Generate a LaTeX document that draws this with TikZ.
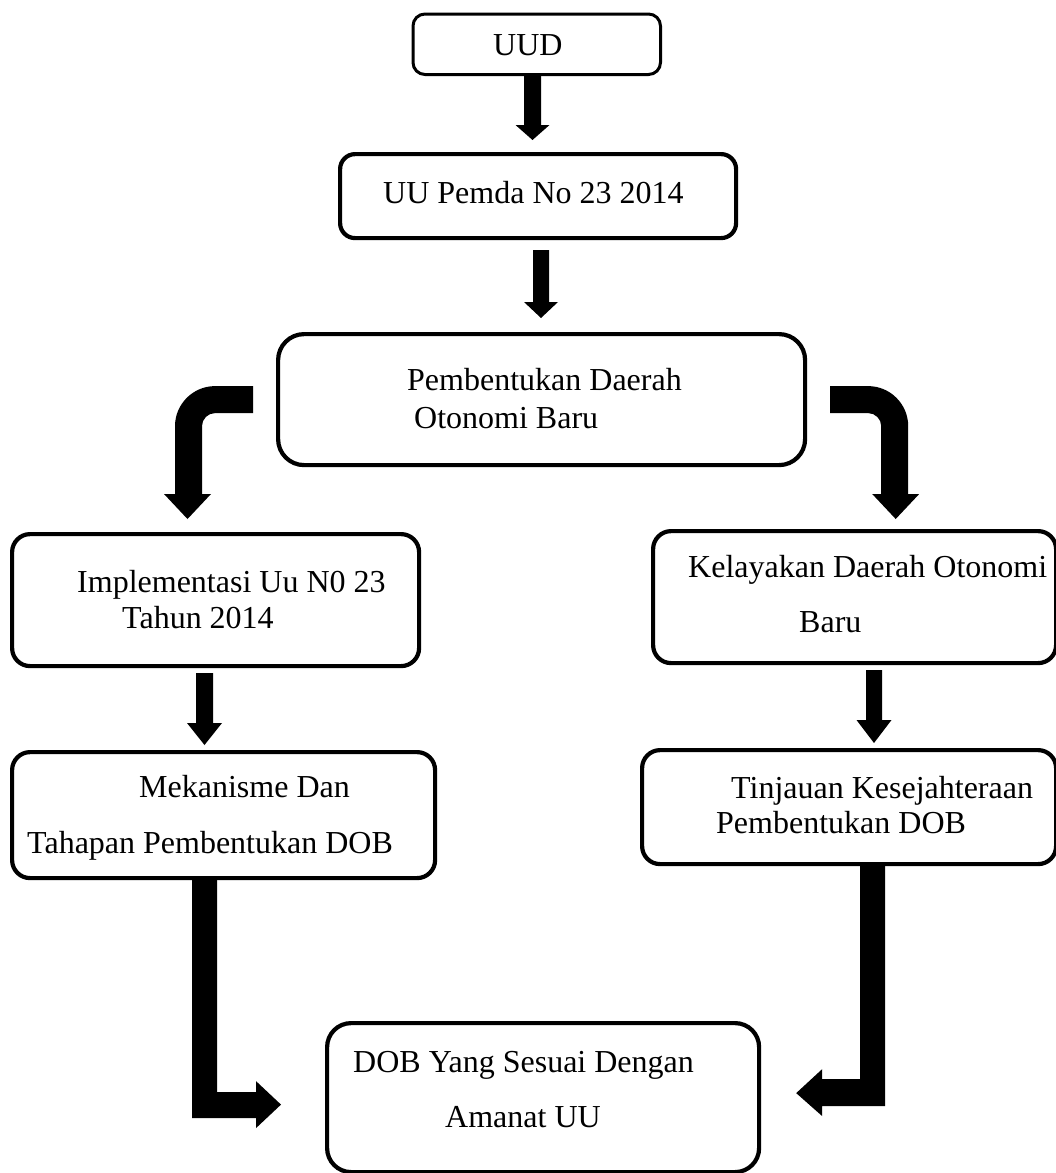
\documentclass[tikz,border=0pt]{standalone}
\usepackage{fontspec}
\setmainfont{Liberation Serif}
\usetikzlibrary{calc}
\tikzset{
  box/.style={draw=black, line width=4.2pt, rounded corners=18pt, inner sep=0pt},
  txt/.style={inner sep=0pt, anchor=base west, font=\fontsize{32}{38}\selectfont},
}
% box by its outer-line centre corners
\newcommand\boxat[6]{\node[box,#6,anchor=north west,minimum width={#4-#2},minimum height={#5-#3}] (#1) at (#2,#3) {};}
% straight block arrow: from, to, x centre, shaft half width, head half width, head length, top gap, bottom gap
\newcommand\vblk[8]{%
  \fill let \p1=(#1.south), \p2=(#2.north) in
  ({(#3)*1pt-(#4)*1pt},{\y1-(#7)*1pt}) -- ({(#3)*1pt+(#4)*1pt},{\y1-(#7)*1pt})
  -- ({(#3)*1pt+(#4)*1pt},{\y2+(#8)*1pt+(#6)*1pt}) -- ({(#3)*1pt+(#5)*1pt},{\y2+(#8)*1pt+(#6)*1pt})
  -- ({(#3)*1pt},{\y2+(#8)*1pt})
  -- ({(#3)*1pt-(#5)*1pt},{\y2+(#8)*1pt+(#6)*1pt}) -- ({(#3)*1pt-(#4)*1pt},{\y2+(#8)*1pt+(#6)*1pt}) -- cycle;}
% bent block arrow from side of a box down onto another: start coord, tip coord, sign (-1 left, 1 right)
\newcommand\bentblk[3]{%
  \fill let \p1=(#1), \p2=(#2) in
  (\x1,\y1+13.5pt) -- ({\x1+(#3)*38pt},\y1+13.5pt)
  .. controls ({\x1+(#3)*60pt},\y1+13.5pt) and ({\x1+(#3)*78pt},\y1-4.5pt) .. ({\x1+(#3)*78pt},\y1-26.5pt)
  -- ({\x1+(#3)*78pt},\y2+25pt) -- ({\x1+(#3)*89pt},\y2+25pt)
  -- ({\x1+(#3)*65.5pt},\y2) -- ({\x1+(#3)*42pt},\y2+25pt)
  -- ({\x1+(#3)*51pt},\y2+25pt) -- ({\x1+(#3)*51pt},\y1-26.5pt)
  .. controls ({\x1+(#3)*51pt},\y1-19.3pt) and ({\x1+(#3)*45pt},\y1-13.5pt) .. ({\x1+(#3)*38pt},\y1-13.5pt)
  -- (\x1,\y1-13.5pt) -- cycle;}
\begin{document}
\begin{tikzpicture}[x=1pt,y=-1pt]
\useasboundingbox (0,0) rectangle (1056,1173);

% boxes
\boxat{uud}{411.5}{12.5}{659}{73}{line width=3pt, rounded corners=12pt}
\boxat{pemda}{338}{152}{734}{236}{rounded corners=15pt}
\boxat{pdob}{276}{332}{803}{463}{rounded corners=26pt}
\boxat{impl}{10}{532}{417}{664}{}
\boxat{kel}{651}{529}{1054}{661}{}
\boxat{mek}{10}{750}{433}{876}{}
\boxat{tin}{640}{748}{1054}{862}{}
\boxat{dob}{325}{1021}{757}{1170}{rounded corners=24pt}

% texts
\node[txt] (t1) at (493,55) {UUD};
\node[txt] (t2) at (383,203) {UU Pemda No 23 2014};
\node[txt] (t3) at (407,390) {Pembentukan Daerah};
\node[txt] (t4) at (414,428) {Otonomi Baru};
\node[txt] (t5) at (77,592) {Implementasi Uu N0 23};
\node[txt] (t6) at (122,628) {Tahun 2014};
\node[txt] (t7) at (688,577) {Kelayakan Daerah Otonomi};
\node[txt] (t8) at (799,632) {Baru};
\node[txt] (t9) at (139,797) {Mekanisme Dan};
\node[txt] (t10) at (27,853) {Tahapan Pembentukan DOB};
\node[txt] (t11) at (731,798) {Tinjauan Kesejahteraan};
\node[txt] (t12) at (716,833) {Pembentukan DOB};
\node[txt] (t13) at (353,1072) {DOB Yang Sesuai Dengan};
\node[txt] (t14) at (445,1127) {Amanat UU};

% straight arrows
\vblk{uud}{pemda}{532.5}{8.5}{17}{15}{-3}{12}
\vblk{pemda}{pdob}{541}{8}{17}{16}{10}{14}
\vblk{impl}{mek}{204.5}{8.5}{17.5}{22}{5}{5}
\vblk{kel}{tin}{874}{8}{17.5}{23}{5}{5}

% bent arrows from pdob
\coordinate (la) at ($(pdob.west)+(-23,0)$);
\coordinate (lt) at ($(impl.north)+(0,-13)$);
\coordinate (ra) at ($(pdob.east)+(23,0)$);
\coordinate (rt) at ($(kel.north)+(0,-10)$);
\bentblk{la}{lt}{-1}
\bentblk{ra}{rt}{1}

% L arrows to dob
\coordinate (lb) at ($(dob.west)+(-44,7)$);
\coordinate (rb) at ($(dob.east)+(35,-4.5)$);
\fill let \p1=(mek.south), \p2=(lb) in
  (\x1-31.5pt,\y1+3pt) -- (\x1-6.5pt,\y1+3pt) -- (\x1-6.5pt,\y2+12.5pt)
  -- (\x2-25pt,\y2+12.5pt) -- (\x2-25pt,\y2+23.5pt) -- (\x2,\y2)
  -- (\x2-25pt,\y2-23.5pt) -- (\x2-25pt,\y2-13.5pt) -- (\x1-31.5pt,\y2-13.5pt) -- cycle;
\fill let \p1=(tin.south), \p2=(rb) in
  (\x1+11pt,\y1+3pt) -- (\x1+36pt,\y1+3pt) -- (\x1+36pt,\y2-13pt)
  -- (\x2+26pt,\y2-13pt) -- (\x2+26pt,\y2-23pt) -- (\x2,\y2)
  -- (\x2+26pt,\y2+24pt) -- (\x2+26pt,\y2+14pt) -- (\x1+11pt,\y2+14pt) -- cycle;
\end{tikzpicture}
\end{document}
